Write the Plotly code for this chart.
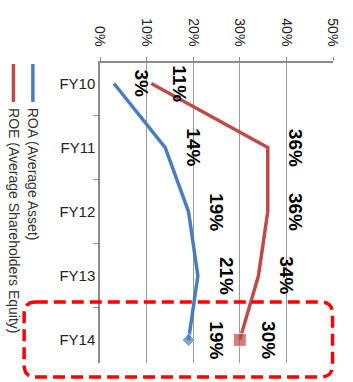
import plotly.graph_objects as go

# Fiscal years and return ratios (%)
years = ["FY10", "FY11", "FY12", "FY13", "FY14"]
roa = [3, 14, 19, 21, 19]
roe = [11, 36, 36, 34, 30]
value_ticks = [0, 10, 20, 30, 40, 50]
roa_name = "ROA (Average Asset)"
roe_name = "ROE (Average Shareholders Equity)"

BLUE = "#4a7ebb"
RED = "#be4b48"
W, H = 353, 382
L, R, T, B = 100, 13.5, 63, 19
PW, PH = W - L - R, H - T - B


def px(x):
    return (x - L) / PW


def py(y):
    return (H - B - y) / PH


fig = go.Figure()
fig.add_trace(go.Scatter(
    x=roa, y=years, mode="lines+markers", name=roa_name,
    line=dict(color=BLUE, width=3.5),
    marker=dict(symbol="diamond", size=[0, 0, 0, 0, 10], color=BLUE),
    showlegend=False,
))
fig.add_trace(go.Scatter(
    x=roe, y=years, mode="lines+markers", name=roe_name,
    line=dict(color=RED, width=3.5),
    marker=dict(symbol="square", size=[0, 0, 0, 0, 13], color=RED),
    showlegend=False,
))

annotations = []
for series in (roa, roe):
    for yr, v in zip(years, series):
        annotations.append(dict(
            x=v, y=yr, xref="x", yref="y", text=f"<b>{v}%</b>",
            textangle=90, showarrow=False, xshift=28,
            font=dict(family="Liberation Sans, Arial", size=19, color="#000"),
        ))

# Legend drawn sideways to the left of the plot
shapes = []
for xpix, color, label in ((31, BLUE, roa_name), (11, RED, roe_name)):
    shapes.append(dict(type="line", xref="paper", yref="paper",
                       x0=px(xpix), x1=px(xpix), y0=py(64), y1=py(102),
                       line=dict(color=color, width=3.5)))
    annotations.append(dict(
        x=px(xpix + 1), y=py(106), xref="paper", yref="paper",
        xanchor="center", yanchor="top", text=label, textangle=90,
        showarrow=False,
        font=dict(family="Liberation Sans, Arial", size=14, color="#333"),
    ))

# Dashed rounded frame around the latest year
x0, x1, y0, y1, r = 22, 339, 302, 377, 12
path = (
    f"M {px(x0 + r)} {py(y0)} L {px(x1 - r)} {py(y0)} "
    f"Q {px(x1)} {py(y0)} {px(x1)} {py(y0 + r)} "
    f"L {px(x1)} {py(y1 - r)} Q {px(x1)} {py(y1)} {px(x1 - r)} {py(y1)} "
    f"L {px(x0 + r)} {py(y1)} Q {px(x0)} {py(y1)} {px(x0)} {py(y1 - r)} "
    f"L {px(x0)} {py(y0 + r)} Q {px(x0)} {py(y0)} {px(x0 + r)} {py(y0)} Z"
)
shapes.append(dict(type="path", xref="paper", yref="paper", path=path,
                   line=dict(color="#ff0000", width=3.5, dash="12px,6px")))

fig.update_layout(
    width=W, height=H, autosize=False,
    margin=dict(l=L, r=R, t=T, b=B, pad=0),
    paper_bgcolor="white", plot_bgcolor="white",
    annotations=annotations, shapes=shapes,
    xaxis=dict(
        side="top", range=[0, 50], tickvals=value_ticks,
        ticktext=[f"{v}%" for v in value_ticks], tickangle=90,
        showgrid=True, gridcolor="#9a9a9a", gridwidth=1,
        showline=True, linecolor="#8a8a8a", linewidth=1.5,
        ticks="outside", ticklen=4, tickcolor="#8a8a8a",
        zeroline=False, fixedrange=True,
        tickfont=dict(family="Liberation Sans, Arial", size=14, color="#222"),
        ticklabelstandoff=6,
    ),
    yaxis=dict(
        type="category", categoryorder="array", categoryarray=years,
        autorange="reversed", tickson="boundaries",
        showgrid=False, showline=True, linecolor="#8a8a8a", linewidth=1.5,
        ticks="outside", ticklen=5, tickcolor="#8a8a8a",
        tickfont=dict(family="Liberation Sans, Arial", size=15, color="#222"),
        zeroline=False, fixedrange=True,
    ),
)

fig.write_html("out.html")
